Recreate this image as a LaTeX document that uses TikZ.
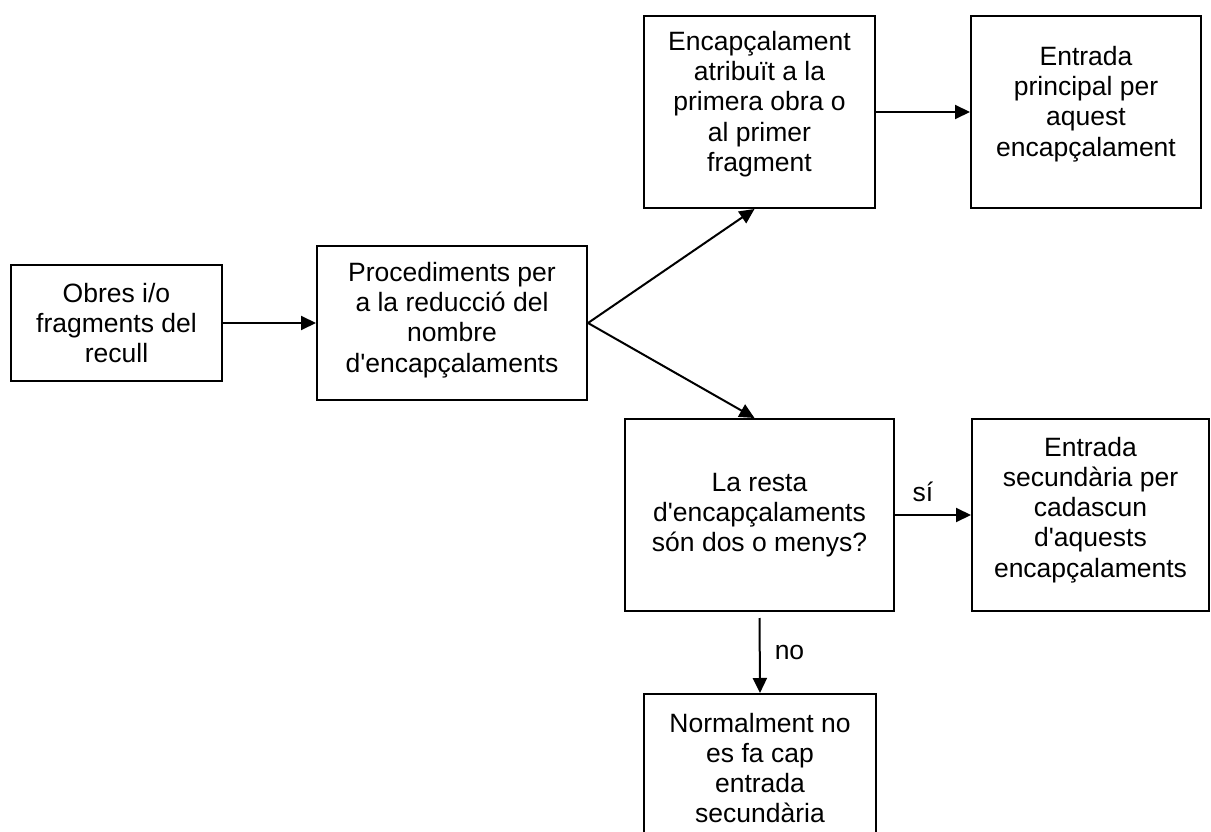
\documentclass[tikz,border=0pt]{standalone}
\usepackage{fontspec}
\setmainfont{Liberation Sans}[Ligatures=TeXOff]
\usetikzlibrary{arrows.meta,calc}
\begin{document}
\begin{tikzpicture}[x=1pt,y=-1pt,
  box/.style={draw,line width=2pt,inner sep=0pt},
  txt/.style={align=center,inner sep=0pt,font=\fontsize{26.5}{30.2}\selectfont},
  arr/.style={line width=2pt,-{Triangle[length=15pt,width=14pt]}},
  lbl/.style={font=\fontsize{26.5}{30.2}\selectfont,inner sep=0pt}]
\useasboundingbox (0,0) rectangle (1211,832);
\clip (0,0) rectangle (1211,832);
\node[box,minimum width=211pt,minimum height=116pt] (b1) at (116.5,323) {};
\node[txt] (t1) at (b1) {Obres i/o\\fragments del\\recull};
\node[box,minimum width=270pt,minimum height=154pt] (b2) at (452,323) {};
\node[txt] (t2) at ($(b2)+(0,-3)$) {Procediments per\\a la reducció del\\nombre\\d'encapçalaments};
\node[box,minimum width=231pt,minimum height=192pt] (b3) at (759.5,112) {};
\node[txt] (t3) at ($(b3)+(0,-8)$) {Encapçalament\\atribuït a la\\primera obra o\\al primer\\fragment};
\node[box,minimum width=230pt,minimum height=192pt] (b4) at (1086,112) {};
\node[txt] (t4) at ($(b4)+(0,-8)$) {Entrada\\principal per\\aquest\\encapçalament};
\node[box,minimum width=269pt,minimum height=192pt] (b5) at (759.5,515) {};
\node[txt] (t5) at (b5) {La resta\\d'encapçalaments\\són dos o menys?};
\node[box,minimum width=237pt,minimum height=192pt] (b6) at (1090.5,515) {};
\node[txt] (t6) at ($(b6)+(0,-5)$) {Entrada\\secundària per\\cadascun\\d'aquests\\encapçalaments};
\node[box,minimum width=232pt,minimum height=148pt] (b7) at (760,768) {};
\node[txt] (t7) at (b7) {Normalment no\\es fa cap\\entrada\\secundària};
\draw[arr] (b1.east) -- (b2.west);
\draw[arr] (b2.east) -- ($(b3.south)+(-5,0)$);
\draw[arr] (b2.east) -- ($(b5.north)+(-5,0)$);
\draw[arr] (b3.east) -- (b4.west);
\draw[arr] (b5.east) -- node[lbl,above=12pt,xshift=-10pt] (si) {sí} (b6.west);
\draw[arr,shorten <=6pt] (b5.south) -- node[lbl,right=14pt] (no) {no} (b7.north);
\end{tikzpicture}
\end{document}
